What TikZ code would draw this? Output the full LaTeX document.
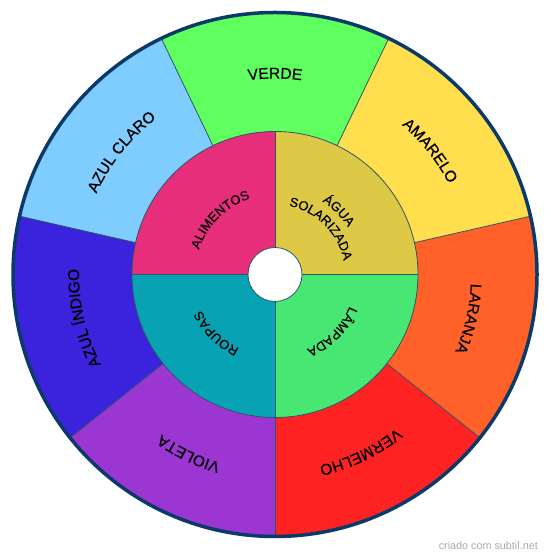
\documentclass[tikz,border=0pt]{standalone}
\usepackage{fontspec}
\newfontfamily\wheelFam[FakeBold=0.5]{Liberation Sans}
\newfontfamily\markFam{Liberation Sans}
\usetikzlibrary{decorations.text}
\definecolor{cVermelho}{HTML}{FF2222}
\definecolor{cLaranja}{HTML}{FF6128}
\definecolor{cAmarelo}{HTML}{FFDF4D}
\definecolor{cVerde}{HTML}{5EFF5E}
\definecolor{cAzulClaro}{HTML}{7FCCFF}
\definecolor{cIndigo}{HTML}{3B22DD}
\definecolor{cVioleta}{HTML}{9B36D3}
\definecolor{cAlimentos}{HTML}{E62E7A}
\definecolor{cAgua}{HTML}{DDC946}
\definecolor{cLampada}{HTML}{48E673}
\definecolor{cRoupas}{HTML}{07A3B5}
\definecolor{cBorder}{HTML}{0B3A6A}
\definecolor{cLine}{HTML}{2E5566}
\definecolor{cMark}{HTML}{AAAAAA}
\newcommand\wheelOutFont{\wheelFam\fontsize{15.5pt}{18pt}\selectfont}
\newcommand\wheelInFont{\wheelFam\fontsize{13pt}{15pt}\selectfont}
\newcommand\outerSeg[3]{\fill[#3] (c) -- ([shift={(#1:262)}]c) arc[start angle=#1, end angle=#2, radius=262] -- cycle;}
\newcommand\innerSeg[3]{\fill[#3] (c) -- ([shift={(#1:143)}]c) arc[start angle=#1, end angle=#2, radius=143] -- cycle;}
\newcommand\outerLabel[2]{\path[decorate, decoration={text along path, text={|\wheelOutFont|#2}, text align=center}] ([shift={(#1+24:196)}]c) arc[start angle=#1+24, end angle=#1-24, radius=196];}
\newcommand\innerLabel[3]{\path[decorate, decoration={text along path, text={|\wheelInFont|#3}, text align=center}] ([shift={(#1+44:#2)}]c) arc[start angle=#1+44, end angle=#1-44, radius=#2];}
\begin{document}
\begin{tikzpicture}[x=1pt,y=1pt,
  segline/.style={draw=cLine, line width=0.8pt}]
\useasboundingbox (0,0) rectangle (550,559);
\fill[white] (0,0) rectangle (550,559);
\coordinate (c) at (275,284.5);
% outer ring
\outerSeg{-90}{-38.5714}{cVermelho}
\outerSeg{-38.5714}{12.8571}{cLaranja}
\outerSeg{12.8571}{64.2857}{cAmarelo}
\outerSeg{64.2857}{115.7143}{cVerde}
\outerSeg{115.7143}{167.1429}{cAzulClaro}
\outerSeg{167.1429}{218.5714}{cIndigo}
\outerSeg{218.5714}{270}{cVioleta}
\foreach \a in {-90,-38.5714,12.8571,64.2857,115.7143,167.1429,218.5714}
  \draw[segline] ([shift={(\a:143)}]c) -- ([shift={(\a:262)}]c);
% inner ring
\innerSeg{0}{90}{cAgua}
\innerSeg{90}{180}{cAlimentos}
\innerSeg{180}{270}{cRoupas}
\innerSeg{270}{360}{cLampada}
\foreach \a in {0,90,180,270}
  \draw[segline] ([shift={(\a:27)}]c) -- ([shift={(\a:143)}]c);
\draw[segline] (c) circle[radius=143];
\filldraw[fill=white, draw=cLine, line width=0.8pt] (c) circle[radius=27];
\draw[cBorder, line width=3.5pt] (c) circle[radius=262];
% outer labels
\outerLabel{-64.2857}{VERMELHO}
\outerLabel{-12.8571}{LARANJA}
\outerLabel{38.5714}{AMARELO}
\outerLabel{90}{VERDE}
\outerLabel{141.4286}{AZUL CLARO}
\outerLabel{192.8571}{AZUL ÍNDIGO}
\outerLabel{244.2857}{VIOLETA}
% inner labels
\innerLabel{135}{80}{ALIMENTOS}
\innerLabel{45}{87}{ÁGUA}
\innerLabel{45}{70}{SOLARIZADA}
\innerLabel{225}{82}{ROUPAS}
\innerLabel{-45}{81}{LÂMPADA}
% watermark
\node[text=cMark, font=\markFam\fontsize{10.8pt}{12pt}\selectfont, anchor=east, inner sep=0pt] (mark) at (538,13) {criado com subtil.net};
\end{tikzpicture}
\end{document}
